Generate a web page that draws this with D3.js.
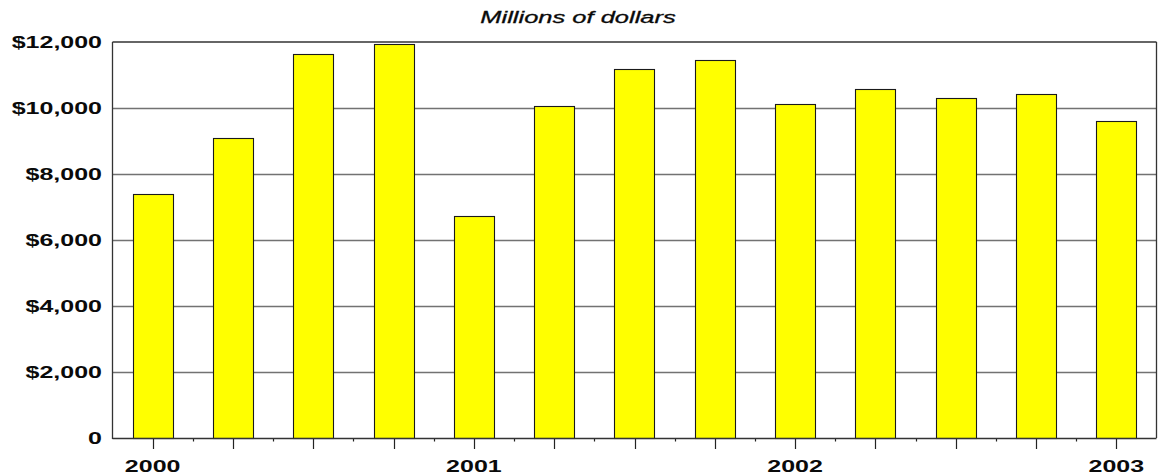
<!DOCTYPE html>
<html>
<head>
<meta charset="utf-8">
<script src="https://cdn.jsdelivr.net/npm/d3@7"></script>
<style>
  html, body { margin: 0; padding: 0; background: #fff; }
  svg { display: block; }
  text { font-family: "Liberation Sans", Arial, sans-serif; fill: #0a0a0a; }
</style>
</head>
<body>
<svg id="chart" width="1158" height="476"></svg>
<script>
// Quarterly values, millions of dollars (2000 Q1 – 2003 Q1)
const quarters = ["2000Q1","2000Q2","2000Q3","2000Q4","2001Q1","2001Q2","2001Q3","2001Q4",
                  "2002Q1","2002Q2","2002Q3","2002Q4","2003Q1"];
const values = [7380, 9100, 11630, 11950, 6720, 10070, 11190, 11440,
                10120, 10580, 10300, 10410, 9620];
const yTicks = [0, 2000, 4000, 6000, 8000, 10000, 12000];
const yearLabels = ["2000", "2001", "2002", "2003"];
const yearQuarters = ["2000Q1", "2001Q1", "2002Q1", "2003Q1"];
const title = "Millions of dollars";

const svg = d3.select("#chart");
const plotL = 112.5, plotR = 1156.5, plotT = 42, plotB = 438;
const stretch = 1.47;   // wide lettering

const x = d3.scaleBand().domain(quarters).range([plotL, plotR])
  .paddingInner(0.5).paddingOuter(0.25);
const y = d3.scaleLinear().domain([0, 12000]).range([plotB, plotT]);

// horizontal gridlines
svg.append("g").selectAll("line").data(yTicks.filter(d => d > 0 && d < 12000)).join("line")
  .attr("x1", plotL).attr("x2", plotR)
  .attr("y1", d => Math.round(y(d)) + 0.5).attr("y2", d => Math.round(y(d)) + 0.5)
  .attr("stroke", "#727272").attr("stroke-width", 1.4);

// bars
svg.append("g").selectAll("rect").data(values).join("rect")
  .attr("x", (d, i) => Math.round(x(quarters[i])) + 0.5)
  .attr("y", d => Math.round(y(d)) + 0.5)
  .attr("width", Math.round(x.bandwidth()))
  .attr("height", d => Math.round(y(0)) - Math.round(y(d)))
  .attr("fill", "#ffff00")
  .attr("stroke", "#1a1a1a").attr("stroke-width", 1.1);

// frame
const frame = svg.append("g").attr("fill", "none").attr("stroke-width", 1.3).attr("stroke", "#333");
frame.append("line").attr("x1", plotL).attr("x2", plotR).attr("y1", plotT).attr("y2", plotT);
frame.append("line").attr("x1", plotR).attr("x2", plotR).attr("y1", plotT).attr("y2", plotB);
frame.append("line").attr("x1", plotL).attr("x2", plotL).attr("y1", plotT).attr("y2", plotB + 1);
frame.append("line").attr("x1", plotL).attr("x2", plotR).attr("y1", plotB + 0.5).attr("y2", plotB + 0.5);

// x ticks: long at bar centres, short at boundaries
const xt = svg.append("g").attr("stroke", "#222").attr("stroke-width", 1.2);
quarters.forEach(q => {
  const cx = Math.round(x(q) + x.bandwidth() / 2) + 0.5;
  xt.append("line").attr("x1", cx).attr("x2", cx).attr("y1", plotB + 1).attr("y2", plotB + 11);
});
quarters.slice(1).forEach(q => {
  const bx = Math.round(x(q) - x.step() * x.paddingInner() / 2) + 0.5;
  xt.append("line").attr("x1", bx).attr("x2", bx).attr("y1", plotB + 1).attr("y2", plotB + 3.5);
});

// y labels
const fmt = d => d === 0 ? "0" : "$" + d3.format(",")(d);
svg.append("g").selectAll("text").data(yTicks).join("text")
  .attr("transform", d => `translate(102,${y(d) + 6}) scale(${stretch},1)`)
  .attr("text-anchor", "end")
  .attr("font-size", 17).attr("font-weight", "bold")
  .text(fmt);

// year labels
svg.append("g").selectAll("text").data(yearLabels).join("text")
  .attr("transform", (d, i) => `translate(${x(yearQuarters[i]) + x.bandwidth() / 2},472) scale(${stretch},1)`)
  .attr("text-anchor", "middle")
  .attr("font-size", 17).attr("font-weight", "bold")
  .text(d => d);

// title
svg.append("text")
  .attr("transform", `translate(578,23) scale(1.5,1)`)
  .attr("text-anchor", "middle")
  .attr("font-size", 17).attr("font-style", "italic")
  .attr("stroke", "#0a0a0a").attr("stroke-width", 0.3)
  .text(title);
</script>
</body>
</html>
